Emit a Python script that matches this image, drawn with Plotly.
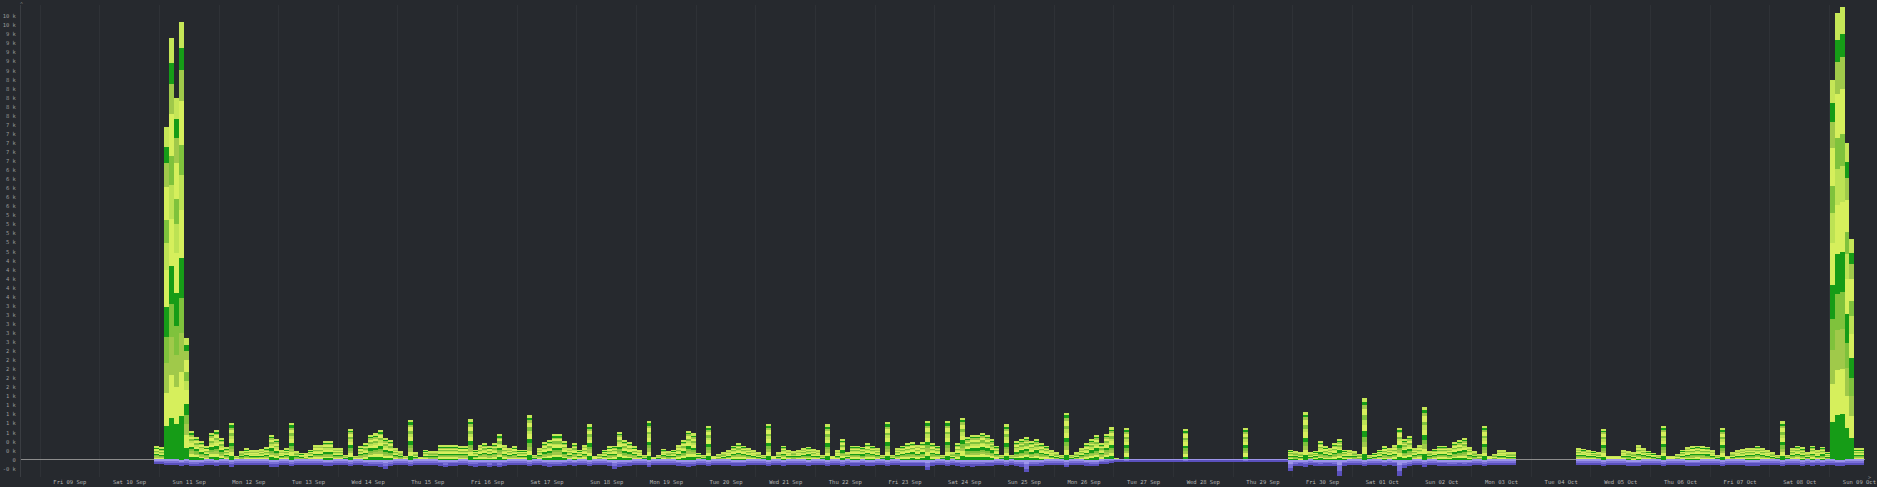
import plotly.graph_objects as go
from datetime import datetime, timedelta

# ---------------- data ----------------
bar_start = datetime(2022, 9, 10)   # bar 0 begins Sat 10 Sep 00:00, bars are 2 h wide
bar_hours = 2

day_labels = ["Fri 09 Sep", "Sat 10 Sep", "Sun 11 Sep", "Mon 12 Sep", "Tue 13 Sep", "Wed 14 Sep",
              "Thu 15 Sep", "Fri 16 Sep", "Sat 17 Sep", "Sun 18 Sep", "Mon 19 Sep", "Tue 20 Sep",
              "Wed 21 Sep", "Thu 22 Sep", "Fri 23 Sep", "Sat 24 Sep", "Sun 25 Sep", "Mon 26 Sep",
              "Tue 27 Sep", "Wed 28 Sep", "Thu 29 Sep", "Fri 30 Sep", "Sat 01 Oct", "Sun 02 Oct",
              "Mon 03 Oct", "Tue 04 Oct", "Wed 05 Oct", "Thu 06 Oct", "Fri 07 Oct", "Sat 08 Oct",
              "Sun 09 Oct"]

# total of the positive (green) stack per 2-hour bar, in thousands
green_total_k = (
    [None] * 11 + [0.29] +                                                          # Sat 10 Sep
    [0.26, 7.36, 9.33, 8.00, 9.67, 2.69, 0.63, 0.51, 0.40, 0.29, 0.59, 0.66] +      # Sun 11 Sep
    [0.48, 0.26, 0.81, 0.07, 0.18, 0.24, 0.20, 0.20, 0.22, 0.26, 0.55, 0.44] +      # Mon 12 Sep
    [0.20, 0.24, 0.81, 0.18, 0.14, 0.13, 0.21, 0.32, 0.32, 0.40, 0.40, 0.25] +      # Tue 13 Sep
    [0.25, 0.10, 0.69, 0.07, 0.29, 0.36, 0.55, 0.58, 0.66, 0.47, 0.43, 0.25] +      # Wed 14 Sep
    [0.18, 0.07, 0.88, 0.15, 0.05, 0.21, 0.18, 0.18, 0.31, 0.31, 0.31, 0.31] +      # Thu 15 Sep
    [0.29, 0.29, 0.89, 0.21, 0.32, 0.36, 0.29, 0.36, 0.56, 0.32, 0.25, 0.29] +      # Fri 16 Sep
    [0.21, 0.21, 0.99, 0.10, 0.25, 0.38, 0.43, 0.56, 0.56, 0.40, 0.25, 0.36] +      # Sat 17 Sep
    [0.21, 0.32, 0.78, 0.08, 0.12, 0.21, 0.29, 0.30, 0.62, 0.43, 0.38, 0.29] +      # Sun 18 Sep
    [0.20, 0.10, 0.86, 0.05, 0.10, 0.23, 0.18, 0.21, 0.32, 0.43, 0.64, 0.58] +      # Mon 19 Sep
    [0.14, 0.10, 0.75, 0.08, 0.12, 0.15, 0.20, 0.30, 0.36, 0.30, 0.25, 0.20] +      # Tue 20 Sep
    [0.15, 0.10, 0.80, 0.08, 0.15, 0.30, 0.20, 0.18, 0.20, 0.25, 0.28, 0.22] +      # Wed 21 Sep
    [0.20, 0.10, 0.78, 0.08, 0.20, 0.46, 0.15, 0.30, 0.30, 0.28, 0.35, 0.30] +      # Thu 22 Sep
    [0.25, 0.10, 0.83, 0.10, 0.25, 0.30, 0.35, 0.38, 0.32, 0.38, 0.86, 0.35] +      # Fri 23 Sep
    [0.30, 0.10, 0.86, 0.15, 0.35, 0.93, 0.50, 0.55, 0.55, 0.60, 0.55, 0.45] +      # Sat 24 Sep
    [0.30, 0.10, 0.78, 0.10, 0.40, 0.45, 0.50, 0.40, 0.45, 0.35, 0.30, 0.20] +      # Sun 25 Sep
    [0.15, 0.10, 1.04, 0.10, 0.15, 0.25, 0.35, 0.45, 0.55, 0.36, 0.57, 0.72] +      # Mon 26 Sep
    [0.03, 0.01, 0.70, 0.01, 0.01, 0.01, 0.01, 0.01, 0.01, 0.01, 0.01, 0.01] +      # Tue 27 Sep
    [0.01, 0.01, 0.68, 0.01, 0.01, 0.01, 0.01, 0.01, 0.01, 0.01, 0.01, 0.01] +      # Wed 28 Sep
    [0.01, 0.01, 0.70, 0.01, 0.01, 0.01, 0.01, 0.01, 0.01, 0.01, 0.01, 0.21] +      # Thu 29 Sep
    [0.18, 0.15, 1.06, 0.15, 0.19, 0.40, 0.29, 0.25, 0.35, 0.45, 0.21, 0.20] +      # Fri 30 Sep
    [0.18, 0.12, 1.36, 0.10, 0.14, 0.21, 0.29, 0.25, 0.32, 0.71, 0.45, 0.52] +      # Sat 01 Oct
    [0.25, 0.32, 1.17, 0.18, 0.23, 0.30, 0.30, 0.25, 0.38, 0.42, 0.47, 0.27] +      # Sun 02 Oct
    [0.18, 0.12, 0.74, 0.08, 0.12, 0.20, 0.20, 0.15, 0.15, None, None, None] +      # Mon 03 Oct
    [None] * 9 + [0.25, 0.23, 0.20] +                                               # Tue 04 Oct
    [0.19, 0.15, 0.69, 0.08, 0.08, 0.08, 0.20, 0.18, 0.15, 0.32, 0.25, 0.19] +      # Wed 05 Oct
    [0.14, 0.10, 0.74, 0.08, 0.08, 0.12, 0.21, 0.27, 0.29, 0.30, 0.29, 0.28] +      # Thu 06 Oct
    [0.20, 0.10, 0.70, 0.08, 0.15, 0.20, 0.22, 0.25, 0.25, 0.30, 0.25, 0.20] +      # Fri 07 Oct
    [0.15, 0.10, 0.85, 0.10, 0.25, 0.30, 0.26, 0.15, 0.30, 0.20, 0.28, 0.16] +      # Sat 08 Oct
    [8.39, 9.87, 10.00, 7.00, 4.87, 0.24, 0.24]                                     # Sun 09 Oct
)

# depth of the negative (purple) stack per 2-hour bar, in thousands
purple_total_k = (
    [None] * 11 + [0.10] +
    [0.10, 0.11, 0.11, 0.11, 0.13, 0.12, 0.14, 0.14, 0.13, 0.12, 0.12, 0.13] +
    [0.12, 0.12, 0.15, 0.11, 0.11, 0.11, 0.11, 0.11, 0.12, 0.12, 0.15, 0.15] +
    [0.12, 0.12, 0.14, 0.11, 0.11, 0.11, 0.11, 0.12, 0.12, 0.13, 0.13, 0.12] +
    [0.12, 0.11, 0.14, 0.11, 0.12, 0.13, 0.14, 0.14, 0.15, 0.21, 0.14, 0.12] +
    [0.11, 0.11, 0.14, 0.11, 0.11, 0.12, 0.12, 0.12, 0.13, 0.17, 0.13, 0.13] +
    [0.12, 0.12, 0.14, 0.15, 0.13, 0.13, 0.16, 0.13, 0.16, 0.13, 0.12, 0.12] +
    [0.12, 0.12, 0.14, 0.11, 0.12, 0.13, 0.15, 0.14, 0.14, 0.13, 0.12, 0.13] +
    [0.12, 0.12, 0.14, 0.11, 0.11, 0.12, 0.13, 0.21, 0.15, 0.14, 0.13, 0.12] +
    [0.12, 0.11, 0.16, 0.11, 0.11, 0.12, 0.12, 0.12, 0.13, 0.14, 0.15, 0.14] +
    [0.12, 0.11, 0.14, 0.11, 0.11, 0.12, 0.12, 0.13, 0.13, 0.13, 0.12, 0.12] +
    [0.12, 0.11, 0.14, 0.11, 0.11, 0.13, 0.12, 0.12, 0.12, 0.12, 0.13, 0.12] +
    [0.12, 0.11, 0.14, 0.11, 0.12, 0.14, 0.12, 0.13, 0.13, 0.12, 0.13, 0.13] +
    [0.12, 0.11, 0.14, 0.11, 0.12, 0.13, 0.13, 0.13, 0.13, 0.13, 0.22, 0.13] +
    [0.12, 0.11, 0.14, 0.12, 0.13, 0.15, 0.14, 0.15, 0.14, 0.14, 0.13, 0.13] +
    [0.12, 0.11, 0.14, 0.11, 0.14, 0.15, 0.28, 0.14, 0.14, 0.13, 0.12, 0.12] +
    [0.11, 0.11, 0.16, 0.11, 0.11, 0.12, 0.13, 0.14, 0.14, 0.10, 0.08, 0.06] +
    [0.04, 0.03, 0.05, 0.03, 0.03, 0.03, 0.03, 0.03, 0.03, 0.03, 0.03, 0.03] +
    [0.03, 0.03, 0.05, 0.03, 0.03, 0.03, 0.03, 0.03, 0.03, 0.03, 0.03, 0.03] +
    [0.03, 0.03, 0.05, 0.03, 0.03, 0.03, 0.03, 0.03, 0.03, 0.03, 0.03, 0.25] +
    [0.14, 0.13, 0.15, 0.12, 0.13, 0.14, 0.13, 0.13, 0.14, 0.36, 0.13, 0.12] +
    [0.12, 0.11, 0.14, 0.11, 0.12, 0.12, 0.13, 0.12, 0.13, 0.36, 0.18, 0.14] +
    [0.12, 0.12, 0.15, 0.12, 0.12, 0.13, 0.13, 0.14, 0.14, 0.13, 0.14, 0.13] +
    [0.12, 0.11, 0.14, 0.11, 0.11, 0.12, 0.12, 0.12, 0.12, None, None, None] +
    [None] * 9 + [0.12, 0.12, 0.12] +
    [0.12, 0.12, 0.14, 0.11, 0.11, 0.11, 0.12, 0.13, 0.13, 0.13, 0.12, 0.12] +
    [0.12, 0.11, 0.14, 0.11, 0.11, 0.12, 0.12, 0.13, 0.13, 0.13, 0.12, 0.12] +
    [0.12, 0.11, 0.14, 0.11, 0.12, 0.12, 0.12, 0.13, 0.13, 0.13, 0.12, 0.12] +
    [0.12, 0.11, 0.14, 0.11, 0.12, 0.12, 0.14, 0.12, 0.13, 0.12, 0.13, 0.12] +
    [0.12, 0.13, 0.13, 0.12, 0.12, 0.12, 0.12]
)

# layers of the stacks (bottom to top) – share of the stack and colour
green_layer_share = [0.10, 0.10, 0.09, 0.08, 0.09, 0.11, 0.08, 0.07, 0.10, 0.07, 0.05, 0.06]
green_layer_color = ["#169c17", "#d6ef5c", "#a0c94a", "#7fc23c", "#169c17", "#d6ef5c",
                     "#bde254", "#7fc23c", "#d6ef5c", "#a0c94a", "#169c17", "#c5e657"]
purple_layer_share = [0.35, 0.35, 0.30]
purple_layer_color = ["#9d95ea", "#7a70d8", "#5a50bd"]

# y tick values (thousands)
y_ticks_k = [round(-0.2 + 0.2 * i, 1) for i in range(51)]

# ---------------- figure ----------------
x_centers = [bar_start + timedelta(hours=bar_hours * k + bar_hours / 2) for k in range(len(green_total_k))]
bar_width_ms = bar_hours * 3600 * 1000

fig = go.Figure()
for share, color in zip(green_layer_share, green_layer_color):
    fig.add_trace(go.Bar(
        x=x_centers,
        y=[None if t is None else t * share for t in green_total_k],
        width=bar_width_ms, marker=dict(color=color, line=dict(width=0)),
        showlegend=False, hoverinfo="skip"))
for share, color in zip(purple_layer_share, purple_layer_color):
    fig.add_trace(go.Bar(
        x=x_centers,
        y=[None if t is None else -t * share for t in purple_total_k],
        width=bar_width_ms, marker=dict(color=color, line=dict(width=0)),
        showlegend=False, hoverinfo="skip"))


def fmt(v):
    if abs(v) < 1e-9:
        return "0"
    r = round(abs(v))
    return ("-" if v < 0 else "") + f"{r} k"


day0 = datetime(2022, 9, 9)
label_pos = [day0 + timedelta(days=i, hours=12) for i in range(len(day_labels))]

bg = "#26292e"
fig.update_layout(
    width=1877, height=487,
    margin=dict(l=21, r=12, t=5, b=10, autoexpand=False),
    paper_bgcolor=bg, plot_bgcolor=bg,
    barmode="relative", bargap=0,
    font=dict(family="DejaVu Sans Mono", size=6, color="#a0a0a0"),
    xaxis=dict(
        type="date", automargin=False,
        range=[datetime(2022, 9, 8, 16, 20), datetime(2022, 10, 9, 14, 15)],
        tickvals=label_pos, ticktext=day_labels,
        tickfont=dict(size=5.5, color="#b8b8b8", family="DejaVu Sans Mono"),
        showgrid=False, ticks="", zeroline=False, showline=False,
        minor=dict(dtick=86400000, tick0="2022-09-09", showgrid=True,
                   gridcolor="#2e3136", gridwidth=1, ticks=""),
    ),
    yaxis=dict(
        automargin=False,
        range=[-0.382, 10.05],
        tickvals=y_ticks_k, ticktext=[fmt(v) for v in y_ticks_k],
        tickfont=dict(size=5.5, color="#9a9a9a", family="DejaVu Sans Mono"),
        showgrid=False, ticks="", ticklabelstandoff=3,
        zeroline=True, zerolinecolor="#8c8c8c", zerolinewidth=1,
        showline=True, linecolor="#3a3d42", linewidth=1,
    ),
)
fig.add_annotation(x=0, xref="paper", y=1, yref="paper", text="^", showarrow=False,
                   xanchor="center", yanchor="bottom", yshift=-4,
                   font=dict(size=5, color="#8a8a8a"))
fig.add_annotation(x=1, xref="paper", y=0, yref="paper", text="&gt;", showarrow=False,
                   xanchor="left", yanchor="middle", xshift=1,
                   font=dict(size=5, color="#8a8a8a"))

fig.write_html("out.html", config={"displayModeBar": False},
               post_script="document.body.style.margin='0';")
